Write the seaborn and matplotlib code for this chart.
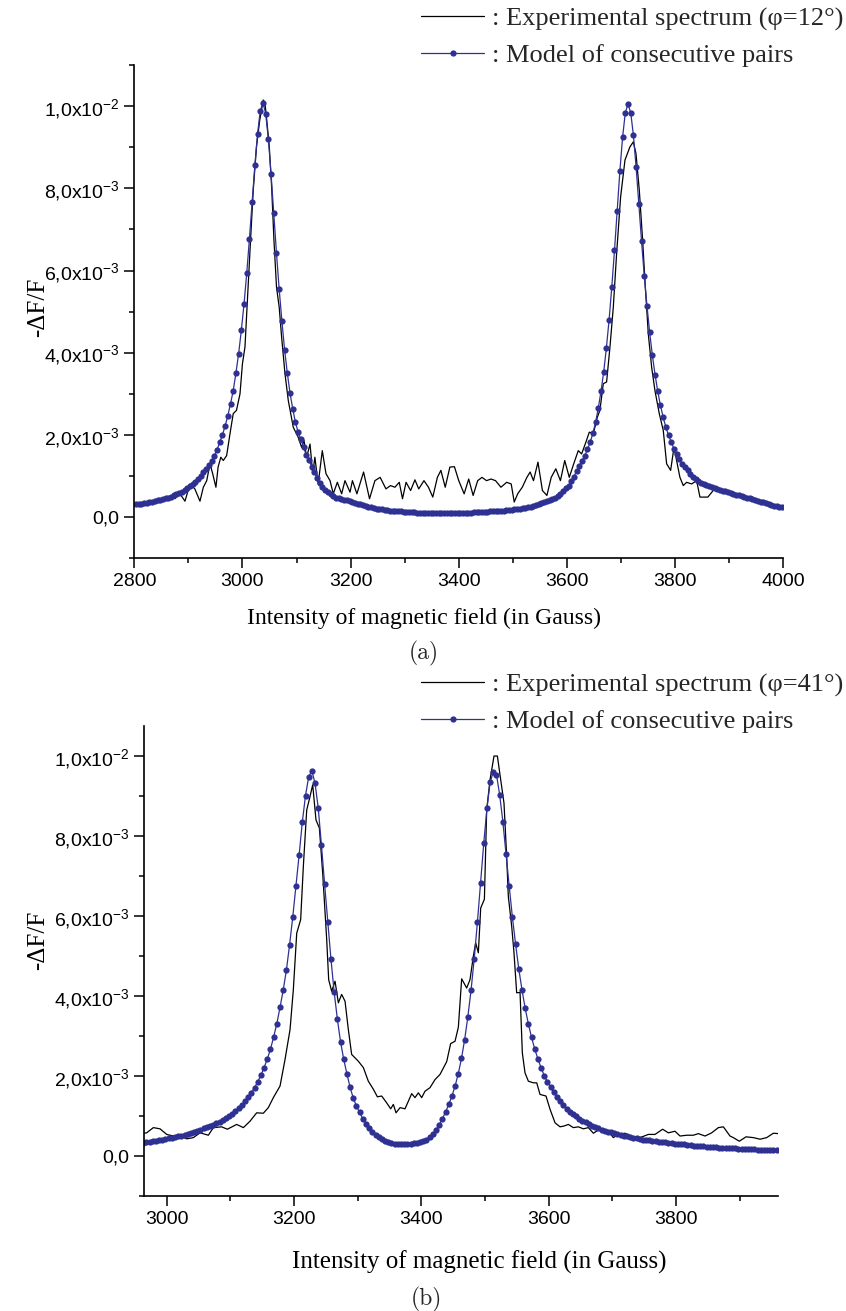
import numpy as np
import seaborn as sns
import matplotlib.pyplot as plt
from matplotlib.ticker import MultipleLocator

# ---- panel (a), phi = 12 deg ; signal values in units of 1e-3 ----
exp_a_field = [2875, 2884.5, 2893.8, 2903, 2912, 2921.5, 2927.7, 2934, 2940, 2945,
               2951, 2955, 2960, 2964.6, 2970.8, 2977, 2983, 2989, 2995.5, 3000,
               3004.7, 3011, 3015, 3020, 3026, 3032, 3038.6, 3041.7, 3045, 3049.7,
               3054, 3058.3, 3063, 3068, 3072.5, 3078.7, 3084.8, 3094, 3103, 3109.5,
               3113.8, 3118.7, 3125, 3130, 3134, 3140, 3147.7, 3154.5, 3162, 3168,
               3175.5, 3183.5, 3189.6, 3199, 3203.4, 3211.7, 3224, 3235, 3245, 3254.7,
               3265.4, 3273.7, 3282, 3290, 3296, 3302.6, 3311, 3319, 3326, 3335.7,
               3344, 3352, 3360.5, 3367, 3375, 3383.6, 3392, 3400, 3410, 3418.4,
               3426.6, 3435, 3443, 3451.4, 3459.7, 3468, 3478, 3488.6, 3497, 3502.6,
               3509, 3517.5, 3526, 3532, 3538.2, 3546.5, 3554.7, 3563, 3571, 3579.5,
               3588, 3596, 3604.4, 3612.6, 3621, 3627.2, 3635.2, 3641.4, 3648.8, 3656.2,
               3661, 3667.3, 3673.4, 3679.6, 3685.8, 3691.9, 3699.3, 3707.4, 3716.6, 3722.8,
               3727.7, 3733.9, 3740, 3745, 3750.5, 3756.7, 3762.8, 3770.8, 3778.2, 3784.4,
               3791.8, 3798, 3802.9, 3809, 3815.2, 3821.4, 3830.6, 3839.9, 3846, 3860.6,
               3873]
exp_a_signal = [0.45, 0.57, 0.39, 0.81, 0.69, 0.39, 0.73, 0.89, 1.30, 1.06,
                0.73, 1.22, 1.46, 1.38, 1.50, 2.03, 2.52, 2.60, 3.00, 3.73,
                4.14, 5.76, 6.74, 7.95, 9.01, 9.66, 10.15, 10.07, 9.66, 9.01,
                8.04, 6.74, 5.60, 5.11, 4.38, 3.49, 2.84, 2.19, 1.95, 1.70,
                1.87, 1.46, 1.78, 1.06, 1.46, 0.81, 1.62, 1.06, 0.89, 0.57,
                0.85, 0.57, 0.89, 0.61, 0.89, 0.57, 1.10, 0.45, 0.89, 0.97,
                0.69, 0.77, 0.73, 0.85, 0.45, 0.85, 0.65, 0.91, 0.69, 0.89,
                0.73, 0.49, 0.97, 1.14, 0.73, 1.22, 1.23, 0.89, 0.57, 0.93,
                0.53, 0.89, 0.97, 0.89, 0.93, 0.89, 0.73, 0.85, 0.81, 0.37,
                0.57, 0.73, 0.97, 1.10, 0.89, 1.34, 0.65, 0.53, 0.97, 1.18,
                0.89, 1.38, 0.97, 1.30, 1.62, 1.54, 1.83, 2.07, 2.03, 2.43,
                2.60, 3.25, 3.29, 4.14, 5.11, 6.41, 7.79, 8.69, 9.01, 9.13,
                8.85, 7.95, 6.74, 5.60, 4.46, 3.65, 3.08, 2.52, 2.11, 1.30,
                1.14, 1.70, 1.38, 0.97, 0.77, 0.85, 0.81, 0.89, 0.49, 0.49,
                0.69]

# model points every 5 G from 2803 G
model_a_field = np.arange(2803, 4000, 5)
model_a_signal = [0.31, 0.32, 0.33, 0.34, 0.35, 0.36, 0.38, 0.39, 0.41, 0.42,
                  0.44, 0.46, 0.48, 0.50, 0.53, 0.56, 0.59, 0.62, 0.66, 0.70,
                  0.75, 0.80, 0.86, 0.93, 1.01, 1.09, 1.18, 1.27, 1.37, 1.49,
                  1.64, 1.82, 2.00, 2.22, 2.47, 2.76, 3.08, 3.51, 3.98, 4.55,
                  5.19, 5.94, 6.78, 7.67, 8.56, 9.33, 9.89, 10.08, 9.82, 9.19,
                  8.34, 7.39, 6.42, 5.54, 4.77, 4.07, 3.51, 3.02, 2.64, 2.31,
                  2.07, 1.90, 1.70, 1.52, 1.39, 1.23, 1.09, 0.96, 0.84, 0.74,
                  0.67, 0.61, 0.56, 0.52, 0.48, 0.46, 0.44, 0.42, 0.41, 0.39,
                  0.37, 0.35, 0.33, 0.31, 0.29, 0.27, 0.25, 0.24, 0.23, 0.21,
                  0.20, 0.19, 0.18, 0.17, 0.16, 0.15, 0.15, 0.14, 0.14, 0.13,
                  0.13, 0.12, 0.12, 0.12, 0.11, 0.11, 0.11, 0.11, 0.10, 0.10,
                  0.10, 0.10, 0.10, 0.10, 0.10, 0.10, 0.10, 0.10, 0.10, 0.10,
                  0.10, 0.11, 0.11, 0.11, 0.11, 0.12, 0.12, 0.12, 0.13, 0.13,
                  0.13, 0.14, 0.14, 0.14, 0.15, 0.15, 0.16, 0.17, 0.17, 0.18,
                  0.19, 0.20, 0.21, 0.22, 0.23, 0.25, 0.26, 0.28, 0.30, 0.32,
                  0.34, 0.36, 0.39, 0.42, 0.45, 0.48, 0.52, 0.57, 0.63, 0.70,
                  0.77, 0.87, 0.99, 1.12, 1.24, 1.37, 1.49, 1.65, 1.82, 2.04,
                  2.31, 2.65, 3.06, 3.53, 4.12, 4.80, 5.60, 6.49, 7.45, 8.43,
                  9.25, 9.84, 10.05, 9.84, 9.29, 8.51, 7.61, 6.72, 5.88, 5.15,
                  4.50, 3.94, 3.47, 3.06, 2.72, 2.43, 2.19, 1.99, 1.83, 1.66,
                  1.54, 1.42, 1.30, 1.22, 1.14, 1.06, 0.99, 0.93, 0.88, 0.84,
                  0.81, 0.78, 0.76, 0.73, 0.71, 0.69, 0.67, 0.65, 0.63, 0.61,
                  0.59, 0.57, 0.55, 0.53, 0.51, 0.50, 0.48, 0.46, 0.44, 0.42,
                  0.40, 0.38, 0.36, 0.34, 0.32, 0.30, 0.28, 0.27, 0.25, 0.24]

# ---- panel (b), phi = 41 deg ----
exp_b_field = [2964, 2968.5, 2979, 2989.5, 3000, 3010.4, 3020.9, 3031.4, 3041.8, 3052.3,
               3065.4, 3073.3, 3086.3, 3095.2, 3109.9, 3120.4, 3130.8, 3141.3, 3151.8, 3159.6,
               3167.5, 3178, 3185.8, 3193.7, 3198.9, 3204.2, 3210.4, 3214.6, 3219.9, 3225.1,
               3229.3, 3234.5, 3239.8, 3245, 3251.3, 3254.4, 3259.1, 3264.4, 3269.6, 3274.8,
               3280.1, 3285.3, 3290.5, 3301, 3308.9, 3316.7, 3324.6, 3330.9, 3337.7, 3345.5,
               3351.8, 3356, 3360.2, 3366.5, 3374.3, 3384.8, 3390, 3395.3, 3400.5, 3405.7,
               3413.6, 3421.4, 3429.3, 3439.8, 3446, 3452.9, 3458.1, 3463.3, 3471.2, 3476.4,
               3481.7, 3485.3, 3489.5, 3493.2, 3499, 3502.6, 3507.8, 3514.1, 3519.4, 3524.6,
               3529.8, 3534, 3536.6, 3541.9, 3545.5, 3549.7, 3555, 3558.6, 3562.8, 3568.1,
               3576, 3581.2, 3586.4, 3595.8, 3602.1, 3610, 3617.8, 3624.1, 3630.9, 3638.7,
               3646.6, 3654.4, 3662.3, 3670.2, 3678, 3685.9, 3693.7, 3701.6, 3709.4, 3719.9,
               3730.4, 3743.5, 3756.5, 3767, 3779, 3788, 3798.4, 3806.3, 3816.8, 3827.2,
               3835.1, 3845.6, 3856, 3866.5, 3874.4, 3884.8, 3890, 3899.5, 3910, 3921.5,
               3932, 3942.4, 3952.9, 3960.8]
exp_b_signal = [0.57, 0.58, 0.71, 0.68, 0.54, 0.50, 0.50, 0.43, 0.46, 0.58,
                0.52, 0.71, 0.73, 0.67, 0.79, 0.71, 0.87, 1.08, 1.07, 1.21,
                1.46, 1.75, 2.41, 3.16, 4.16, 5.57, 5.91, 7.24, 8.65, 8.99,
                9.28, 8.40, 8.20, 7.07, 5.41, 4.41, 4.12, 4.37, 3.83, 4.04,
                3.87, 3.16, 2.54, 2.37, 2.21, 1.87, 1.67, 1.48, 1.50, 1.33,
                1.18, 1.29, 1.08, 1.21, 1.18, 1.56, 1.46, 1.58, 1.46, 1.62,
                1.71, 1.91, 2.04, 2.36, 2.81, 2.87, 3.22, 4.43, 4.20, 4.41,
                5.00, 5.33, 5.08, 6.20, 6.42, 8.65, 9.40, 10.00, 10.00, 9.40,
                8.82, 7.49, 6.49, 5.74, 5.08, 4.08, 4.09, 2.58, 2.08, 1.87,
                1.83, 1.83, 1.54, 1.50, 1.17, 0.83, 0.73, 0.75, 0.79, 0.71,
                0.73, 0.68, 0.71, 0.57, 0.65, 0.60, 0.62, 0.46, 0.54, 0.57,
                0.48, 0.46, 0.54, 0.54, 0.67, 0.58, 0.62, 0.50, 0.52, 0.52,
                0.56, 0.50, 0.58, 0.71, 0.73, 0.50, 0.46, 0.37, 0.48, 0.46,
                0.42, 0.46, 0.57, 0.56]

model_b_field = np.arange(2963, 3960, 5)
model_b_signal = [0.33, 0.34, 0.35, 0.37, 0.38, 0.39, 0.41, 0.42, 0.44, 0.45,
                  0.47, 0.49, 0.51, 0.53, 0.55, 0.58, 0.60, 0.63, 0.66, 0.69,
                  0.72, 0.75, 0.78, 0.82, 0.86, 0.90, 0.95, 1.01, 1.06, 1.12,
                  1.19, 1.27, 1.37, 1.47, 1.58, 1.71, 1.86, 2.02, 2.21, 2.43,
                  2.67, 2.98, 3.31, 3.72, 4.15, 4.65, 5.28, 5.98, 6.75, 7.53,
                  8.35, 9.01, 9.48, 9.63, 9.32, 8.70, 7.78, 6.80, 5.86, 4.92,
                  4.10, 3.43, 2.86, 2.42, 2.06, 1.72, 1.45, 1.25, 1.09, 0.93,
                  0.81, 0.70, 0.61, 0.53, 0.47, 0.42, 0.38, 0.35, 0.33, 0.31,
                  0.30, 0.29, 0.29, 0.29, 0.30, 0.32, 0.33, 0.35, 0.37, 0.41,
                  0.47, 0.55, 0.65, 0.78, 0.93, 1.10, 1.29, 1.50, 1.75, 2.06,
                  2.44, 2.91, 3.48, 4.14, 4.93, 5.84, 6.82, 7.82, 8.69, 9.34,
                  9.61, 9.53, 9.03, 8.36, 7.55, 6.74, 5.97, 5.30, 4.68, 4.16,
                  3.70, 3.31, 2.97, 2.68, 2.43, 2.21, 2.01, 1.86, 1.72, 1.60,
                  1.48, 1.37, 1.27, 1.18, 1.11, 1.05, 0.99, 0.93, 0.88, 0.84,
                  0.80, 0.76, 0.72, 0.69, 0.66, 0.63, 0.61, 0.59, 0.57, 0.55,
                  0.53, 0.51, 0.49, 0.47, 0.45, 0.44, 0.43, 0.41, 0.40, 0.39,
                  0.38, 0.37, 0.36, 0.35, 0.34, 0.33, 0.32, 0.31, 0.30, 0.30,
                  0.29, 0.28, 0.27, 0.26, 0.25, 0.25, 0.24, 0.23, 0.23, 0.22,
                  0.22, 0.21, 0.21, 0.20, 0.20, 0.19, 0.19, 0.18, 0.18, 0.18,
                  0.17, 0.17, 0.17, 0.16, 0.16, 0.16, 0.15, 0.15, 0.15, 0.15]

ytick_values = [0, 2, 4, 6, 8, 10]
ytick_labels = ['0,0', '2,0x10$^{-3}$', '4,0x10$^{-3}$', '6,0x10$^{-3}$',
                '8,0x10$^{-3}$', '1,0x10$^{-2}$']
xticks_a = [2800, 3000, 3200, 3400, 3600, 3800, 4000]
xticks_b = [3000, 3200, 3400, 3600, 3800]

sns.set_style('ticks')
plt.rcParams['font.family'] = ['Liberation Sans', 'DejaVu Sans']
plt.rcParams['mathtext.fontset'] = 'custom'
plt.rcParams['mathtext.rm'] = 'Liberation Sans'
plt.rcParams['mathtext.it'] = 'Liberation Sans:italic'
plt.rcParams['mathtext.bf'] = 'Liberation Sans:bold'

serif = ['Liberation Serif', 'DejaVu Serif']
blue = '#2e3192'

fig = plt.figure(figsize=(8.46, 13.11), dpi=100)
ax_a = fig.add_axes([0.1587, 0.5741, 0.7671, 0.3763])
ax_b = fig.add_axes([0.1702, 0.0877, 0.7498, 0.3585])

panels = [
    (ax_a, exp_a_field, exp_a_signal, model_a_field, model_a_signal, '12',
     (2800, 4000), (-1, 11), xticks_a, 17, (0.446, -0.121), (-0.148, 0.509), 0.9945),
    (ax_b, exp_b_field, exp_b_signal, model_b_field, model_b_signal, '41',
     (2964.3, 3960.7), (-1, 10.75), xticks_b, 18, (0.529, -0.140), (-0.167, 0.545), 0.4866),
]

for ax, ex, ey, mx, my, phi, xlim, ylim, xt, xl_size, xl_pos, yl_pos, leg_top in panels:
    sns.lineplot(x=ex, y=ey, ax=ax, color='black', linewidth=0.9, estimator=None,
                 sort=False, label=': Experimental spectrum (\u03c6=' + phi + '\u00b0)')
    sns.lineplot(x=mx, y=my, ax=ax, color=blue, linewidth=0.9, estimator=None,
                 marker='o', markersize=4.5, markeredgewidth=0,
                 label=': Model of consecutive pairs')
    ax.set_xlim(*xlim)
    ax.set_ylim(*ylim)
    ax.set_xticks(xt)
    ax.xaxis.set_minor_locator(MultipleLocator(100))
    ax.set_yticks(ytick_values, ytick_labels)
    ax.yaxis.set_minor_locator(MultipleLocator(1))
    ax.tick_params(which='major', direction='out', length=7, width=1.1,
                   labelsize=14, color='black', labelcolor='black')
    ax.tick_params(which='minor', direction='out', length=3.5, width=1.1, color='black')
    sns.despine(ax=ax)
    for s in ['left', 'bottom']:
        ax.spines[s].set_linewidth(1.2)
        ax.spines[s].set_color('black')
    ax.set_xlabel('Intensity of magnetic field (in Gauss)', family=serif,
                  fontsize=xl_size, va='center', color='black')
    ax.xaxis.set_label_coords(*xl_pos)
    ax.set_ylabel('-\u0394F/F', family=serif, fontsize=18, va='center', color='black')
    ax.yaxis.set_label_coords(*yl_pos)
    ax.legend(loc='upper right', bbox_to_anchor=(0.997, leg_top),
              bbox_transform=fig.transFigure, frameon=False, handlelength=2.4,
              handletextpad=0.3, borderpad=0, borderaxespad=0, labelspacing=0.48,
              numpoints=1, prop={'family': serif, 'size': 19})

fig.text(424 / 846, 1 - 653 / 1311, '(a)', family=['cmr10', 'DejaVu Serif'],
         fontsize=17, ha='center', va='center')
fig.text(426 / 846, 1 - 1299 / 1311, '(b)', family=['cmr10', 'DejaVu Serif'],
         fontsize=17, ha='center', va='center')

fig.savefig('out.png', dpi=100)
